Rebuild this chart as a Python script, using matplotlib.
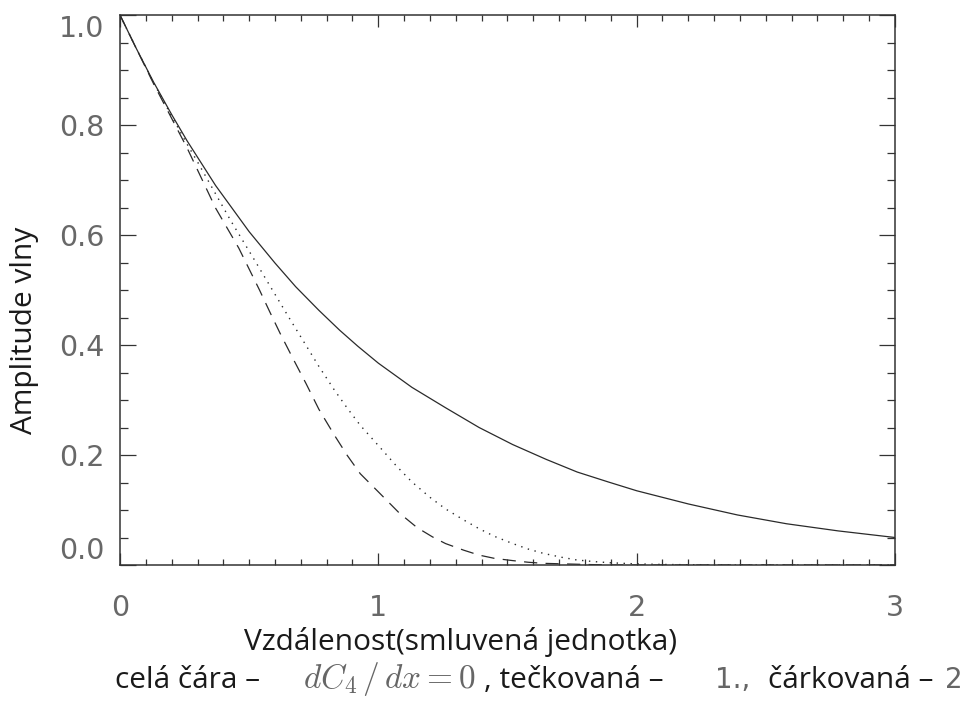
import matplotlib
matplotlib.use("Agg")
import matplotlib.pyplot as plt
from matplotlib.ticker import MultipleLocator

plt.rcParams['lines.scale_dashes'] = False
plt.rcParams['mathtext.fontset'] = 'cm'

# wave amplitude vs distance
x_solid = [0.0, 0.06, 0.13, 0.20, 0.26, 0.37, 0.50, 0.60, 0.68, 0.77, 0.85, 0.92, 1.00,
           1.13, 1.26, 1.39, 1.52, 1.65, 1.77, 1.89, 2.00, 2.20, 2.39, 2.58, 2.78, 3.00]
y_solid = [1.000, 0.942, 0.878, 0.819, 0.771, 0.690, 0.606, 0.549, 0.506, 0.463, 0.427,
           0.398, 0.367, 0.323, 0.286, 0.250, 0.219, 0.192, 0.169, 0.151, 0.135, 0.111,
           0.091, 0.075, 0.062, 0.050]

x_dot = [0.0, 0.06, 0.13, 0.20, 0.26, 0.30, 0.43, 0.52, 0.59, 0.65, 0.71, 0.77, 0.83,
         0.88, 0.93, 1.01, 1.07, 1.13, 1.20, 1.26, 1.33, 1.39, 1.45, 1.52, 1.58, 1.64,
         1.71, 1.77, 1.84, 1.90, 2.00, 2.10, 2.30, 2.60, 3.00]
y_dot = [1.000, 0.942, 0.877, 0.816, 0.765, 0.733, 0.625, 0.555, 0.500, 0.453, 0.407,
         0.361, 0.318, 0.285, 0.254, 0.212, 0.180, 0.151, 0.123, 0.102, 0.082, 0.066,
         0.052, 0.039, 0.029, 0.021, 0.014, 0.009, 0.006, 0.004, 0.002, 0.001, 0.0,
         0.0, 0.0]

x_dash = [0.0, 0.06, 0.13, 0.20, 0.26, 0.37, 0.46, 0.54, 0.58, 0.62, 0.67, 0.72, 0.77,
          0.83, 0.88, 0.93, 1.00, 1.08, 1.15, 1.21, 1.26, 1.33, 1.39, 1.45, 1.52, 1.58,
          1.64, 1.72, 1.80, 1.90, 2.00, 2.50, 3.00]
y_dash = [1.000, 0.942, 0.875, 0.812, 0.758, 0.649, 0.576, 0.500, 0.460, 0.421, 0.375,
          0.330, 0.283, 0.236, 0.199, 0.166, 0.133, 0.095, 0.068, 0.051, 0.039, 0.027,
          0.018, 0.012, 0.008, 0.005, 0.003, 0.002, 0.001, 0.0, 0.0, 0.0, 0.0]

x_ticks = [0, 1, 2, 3]
y_ticks = [0.0, 0.2, 0.4, 0.6, 0.8, 1.0]
y_ticklabels = ["0.0", "0.2", "0.4", "0.6", "0.8", "1.0"]

W, H = 967, 704
fig = plt.figure(figsize=(W / 100, H / 100), dpi=100)
ax = fig.add_axes([120 / W, 1 - 565 / H, 775 / W, 550 / H])

line_col = "#2a2a2a"
ax.plot(x_solid, y_solid, color=line_col, lw=0.9)
ax.plot(x_dot, y_dot, color=line_col, lw=1.0, linestyle=(0, (1.0, 4.0)))
ax.plot(x_dash, y_dash, color=line_col, lw=0.9, linestyle=(0, (9.5, 6.0)))

ax.set_xlim(0, 3)
ax.set_ylim(0, 1.0)

ax.xaxis.set_major_locator(MultipleLocator(1))
ax.xaxis.set_minor_locator(MultipleLocator(0.1))
ax.yaxis.set_major_locator(MultipleLocator(0.2))
ax.yaxis.set_minor_locator(MultipleLocator(0.05))

for s in ax.spines.values():
    s.set_color("#333333")
    s.set_linewidth(1.1)

ax.tick_params(which="both", direction="in", top=True, right=True,
               color="#333333", width=0.9)
ax.tick_params(axis="x", which="major", length=8.5, pad=21)
ax.tick_params(axis="x", which="minor", length=4.5)
ax.tick_params(axis="y", which="major", length=11.5, pad=11)
ax.tick_params(axis="y", which="minor", length=6)

tick_font = dict(family="DejaVu Sans", size=20.5, color="#686868")
ax.set_xticks(x_ticks)
ax.set_xticklabels([str(t) for t in x_ticks], **tick_font)
ax.set_yticks(y_ticks)
ax.set_yticklabels(y_ticklabels, **tick_font)
ylabs = ax.get_yticklabels()
ylabs[0].set_va("bottom")
ylabs[-1].set_va("top")

label_font = dict(family="Open Sans", size=21.5, color="#1a1a1a")
fig.text(461 / W, 1 - 650 / H, "Vzdálenost(smluvená jednotka)",
         ha="center", va="baseline", **label_font)
fig.text(25 / W, 1 - 330 / H, "Amplitude vlny", rotation=90,
         ha="center", va="center", **label_font)

# caption explaining the line styles
base = 1 - 688 / H
gray = "#666666"
fig.text(115 / W, base, "celá čára –", ha="left", va="baseline", **label_font)
fig.text(303 / W, base, r"$dC_4\,/\,dx=0$", ha="left", va="baseline",
         size=24, color=gray)
fig.text(484 / W, base, ", tečkovaná –", ha="left", va="baseline", **label_font)
fig.text(715 / W, base, "1.,", ha="left", va="baseline",
         family="DejaVu Sans", size=20, color=gray)
fig.text(768 / W, base, "čárkovaná –", ha="left", va="baseline", **label_font)
fig.text(945 / W, base, "2", ha="left", va="baseline",
         family="DejaVu Sans", size=20, color=gray)

fig.savefig("out.png", dpi=100)
